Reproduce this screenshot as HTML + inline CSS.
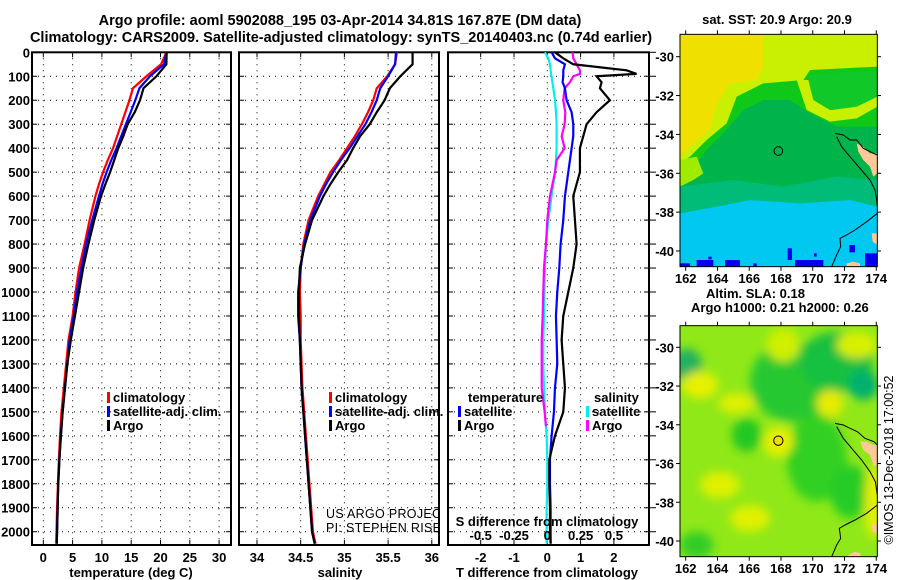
<!DOCTYPE html>
<html><head><meta charset="utf-8"><style>
html,body{margin:0;padding:0;background:#fff;}
svg{display:block;font-family:"Liberation Sans",Arial,sans-serif;}
.b{font-weight:bold;font-size:13px;}
.n{font-size:12.5px;letter-spacing:0.3px;}
</style></head><body>
<svg id="fig" width="900" height="580" viewBox="0 0 900 580">
<defs>
<clipPath id="c1"><rect x="32" y="52" width="199" height="493"/></clipPath>
<clipPath id="c2"><rect x="239" y="52" width="200" height="493"/></clipPath>
<clipPath id="c3"><rect x="448" y="52" width="201" height="493"/></clipPath>
<clipPath id="m1"><rect x="90" y="103" width="592" height="697"/></clipPath>
<clipPath id="m2"><rect x="90" y="122" width="592" height="693"/></clipPath>
<filter id="bl" x="-20%" y="-20%" width="140%" height="140%"><feGaussianBlur stdDeviation="14"/></filter>
</defs>
<text x="340" y="25" text-anchor="middle" style="font-weight:bold;font-size:14.5px">Argo profile: aoml 5902088_195 03-Apr-2014 34.81S 167.87E (DM data)</text>
<text x="341" y="42" text-anchor="middle" style="font-weight:bold;font-size:14.5px">Climatology: CARS2009. Satellite-adjusted climatology: synTS_20140403.nc (0.74d earlier)</text>
<g id="p1"></g>
<g id="p2"></g>
<g id="p3"></g>
<g id="yl"></g>

<!-- Map 1 -->
<text x="777" y="24" text-anchor="middle" class="b">sat. SST: 20.9 Argo: 20.9</text>
<g transform="translate(650,0) scale(0.33333)">
 <g clip-path="url(#m1)">
  <rect x="90" y="103" width="592" height="697" fill="#00b44c"/>
  <polygon fill="#10c818" points="90,103 682,103 682,380 560,380 480,340 420,300 340,300 280,330 220,400 170,450 130,500 90,530"/>
  <polygon fill="#00bc78" points="90,560 250,540 400,560 560,530 682,540 682,620 600,600 450,610 300,600 200,620 90,640"/>
  <polygon fill="#00c8f0" points="90,640 200,620 300,600 450,610 600,600 682,620 682,800 90,800"/>
  <polygon fill="#c8f000" points="90,103 682,103 682,200 480,210 460,240 340,250 260,290 230,370 170,420 120,470 90,490"/>
  <polygon fill="#c8f000" points="440,240 470,330 540,365 620,355 682,320 682,290 620,320 540,330 490,300 475,240"/>
  <polygon fill="#10c828" points="480,225 682,210 682,290 620,320 545,330 495,300 482,255"/>
  <polygon fill="#a0ec00" points="90,480 140,470 160,520 130,540 90,560"/>
  <polygon fill="#f0e000" points="90,103 340,103 340,200 320,240 240,250 200,310 180,390 130,430 90,470"/>
  <g fill="#0000f0"><rect x="90" y="790" width="30" height="10"/><rect x="140" y="780" width="50" height="20"/><rect x="225" y="780" width="45" height="20"/><rect x="310" y="790" width="10" height="10"/><rect x="413" y="745" width="13" height="35"/><rect x="435" y="780" width="85" height="20"/><rect x="492" y="760" width="8" height="10"/><rect x="598" y="735" width="17" height="22"/><rect x="645" y="760" width="37" height="40"/><rect x="175" y="770" width="10" height="8"/></g>
  <polygon fill="#ffc896" points="620,430 640,440 660,460 682,460 682,520 670,530 660,500 640,480 625,455"/>
  <polygon fill="#ffc896" points="665,700 682,700 682,735 668,725"/>
  <polygon fill="#ffc896" points="590,790 610,785 630,790 630,800 590,800"/>
  <polyline fill="none" stroke="#000" stroke-width="3" points="555,400 580,405 600,420 620,420 640,445 670,460 682,465"/>
  <polyline fill="none" stroke="#000" stroke-width="3" points="560,410 575,440 600,470 630,505 660,540 675,570 680,600 682,620"/>
  <polyline fill="none" stroke="#000" stroke-width="3" points="682,640 650,665 615,690 590,705 570,715 572,740 560,765 545,800"/>
  <circle cx="385" cy="453" r="13" fill="none" stroke="#000" stroke-width="3"/>
 </g>
 <rect x="90" y="103" width="592" height="697" fill="none" stroke="#000" stroke-width="3"/>
</g>
<g id="mt1"></g>

<!-- Map 2 -->
<text x="706" y="298" class="b">Altim. SLA: 0.18</text>
<text x="691" y="312" class="b">Argo h1000: 0.21 h2000: 0.26</text>
<g transform="translate(650,285) scale(0.33333)">
 <g clip-path="url(#m2)">
  <rect x="90" y="122" width="592" height="693" fill="#90e818"/>
  <g filter="url(#bl)">
   <ellipse cx="430" cy="290" rx="130" ry="120" fill="#28c830"/>
   <ellipse cx="560" cy="230" rx="110" ry="90" fill="#18c040"/>
   <ellipse cx="640" cy="300" rx="45" ry="45" fill="#00b070"/>
   <ellipse cx="110" cy="240" rx="45" ry="50" fill="#20b060"/>
   <ellipse cx="290" cy="450" rx="45" ry="50" fill="#20c820"/>
   <ellipse cx="500" cy="520" rx="90" ry="130" fill="#30d020"/>
   <ellipse cx="600" cy="620" rx="60" ry="80" fill="#28cc28"/>
   <ellipse cx="140" cy="780" rx="50" ry="40" fill="#30cc28"/>
   <ellipse cx="150" cy="300" rx="55" ry="40" fill="#e8f000"/>
   <ellipse cx="260" cy="355" rx="55" ry="30" fill="#e0f000"/>
   <ellipse cx="540" cy="355" rx="40" ry="40" fill="#e8ec00"/>
   <ellipse cx="385" cy="470" rx="45" ry="45" fill="#e8f000"/>
   <ellipse cx="210" cy="600" rx="60" ry="40" fill="#e0f000"/>
   <ellipse cx="300" cy="700" rx="60" ry="40" fill="#e0f000"/>
   <ellipse cx="670" cy="650" rx="25" ry="110" fill="#e8f000"/>
   <ellipse cx="620" cy="180" rx="60" ry="40" fill="#d8f000"/>
   <ellipse cx="400" cy="180" rx="50" ry="50" fill="#d0f000"/>
  </g>
  <polygon fill="#ffc896" points="630,470 650,470 670,480 682,480 682,540 672,545 660,510 640,495"/>
  <polygon fill="#ffc896" points="665,720 682,715 682,745 668,740"/>
  <polygon fill="#ffc896" points="595,810 615,800 632,805 632,815 595,815"/>
  <polyline fill="none" stroke="#000" stroke-width="3" points="555,415 580,420 600,430 622,440 645,460 672,470 682,480"/>
  <polyline fill="none" stroke="#000" stroke-width="3" points="560,425 580,460 605,490 635,525 660,560 676,590 682,630"/>
  <polyline fill="none" stroke="#000" stroke-width="3" points="682,660 650,685 615,705 585,720 568,730 572,760 560,780 545,815"/>
  <circle cx="385" cy="467" r="14" fill="#f0e000" stroke="#000" stroke-width="3"/>
 </g>
 <rect x="90" y="122" width="592" height="693" fill="none" stroke="#000" stroke-width="3"/>
</g>
<g id="mt2"></g>
<text transform="translate(893,460) rotate(-90)" text-anchor="middle" style="font-size:12.5px">©IMOS 13-Dec-2018 17:00:52</text>
</svg>
<script>
// ---- data ----
const depths = [0,50,100,150,200,250,300,350,400,450,500,550,600,700,800,900,1000,1100,1200,1300,1400,1500,1600,1700,1800,1900,2000,2050];
const tempClim = [21.0,20.1,17.6,15.3,14.7,14.0,13.3,12.6,11.9,11.0,10.2,9.5,8.9,7.9,7.05,6.1,5.5,5.0,4.3,3.9,3.5,3.1,2.85,2.65,2.5,2.35,2.25,2.2];
const tempSat  = [21.0,20.6,18.2,16.4,15.7,14.9,14.1,13.3,12.5,11.6,10.8,10.1,9.5,8.35,7.3,6.5,5.75,5.2,4.5,4.1,3.7,3.3,3.0,2.75,2.55,2.45,2.35,2.3];
const tempArgo = [21.05,21.0,19.3,17.1,16.5,15.6,14.4,13.65,12.8,12.1,11.4,10.6,9.85,8.7,7.7,6.8,6.1,5.4,4.7,4.1,3.7,3.3,3.0,2.75,2.55,2.45,2.35,2.3];
const salClim  = [35.6,35.58,35.49,35.37,35.33,35.27,35.2,35.12,35.03,34.94,34.84,34.77,34.7,34.59,34.53,34.5,34.49,34.5,34.5,34.51,34.52,34.54,34.56,34.58,34.6,34.62,34.64,34.67];
const salSat   = [35.59,35.58,35.5,35.41,35.37,35.31,35.24,35.15,35.06,34.96,34.87,34.79,34.72,34.61,34.54,34.5,34.47,34.47,34.49,34.5,34.51,34.53,34.55,34.57,34.59,34.61,34.63,34.66];
const salArgo  = [35.78,35.78,35.64,35.52,35.46,35.37,35.29,35.18,35.1,35.03,34.93,34.84,34.76,34.63,34.55,34.49,34.48,34.48,34.49,34.5,34.51,34.53,34.55,34.57,34.59,34.61,34.63,34.66];
const diffDepths = [0,25,50,75,90,100,125,150,200,250,300,350,400,450,500,600,700,800,900,1000,1100,1200,1300,1400,1500,1600,1700,1800,1900,2000,2050];
const dTsat  = [0.13,0.23,0.53,0.48,0.48,0.48,0.46,0.53,0.58,0.73,0.78,0.78,0.73,0.68,0.63,0.53,0.48,0.4,0.36,0.3,0.26,0.28,0.3,0.23,0.2,0.13,0.08,0.08,0.1,0.1,0.1];
const dTargo = [0.23,0.48,0.78,2.38,2.68,1.48,1.63,1.58,1.88,1.48,1.18,1.08,0.98,0.98,0.98,0.78,0.83,0.88,0.78,0.63,0.48,0.43,0.48,0.53,0.48,0.23,0.06,0.06,0.08,0.08,0.1];
const dSsat  = [-0.018,0.008,0.02,0.025,0.028,0.032,0.038,0.045,0.058,0.065,0.07,0.07,0.07,0.065,0.058,0.032,0.008,-0.01,-0.018,-0.022,-0.025,-0.03,-0.03,-0.025,-0.018,-0.005,0,0,-0.005,-0.005,-0.005];
const dSargoDepths = [0,25,50,75,90,100,125,150,200,250,300,350,400,450,500,600,700,800,900,1000,1100,1200,1300,1400,1500,1560];
const dSargo = [0.19,0.195,0.22,0.245,0.245,0.195,0.17,0.13,0.12,0.135,0.13,0.108,0.13,0.07,0.058,0.02,0,-0.01,-0.025,-0.03,-0.035,-0.042,-0.042,-0.042,-0.02,-0.01];
const depthTicks = [0,100,200,300,400,500,600,700,800,900,1000,1100,1200,1300,1400,1500,1600,1700,1800,1900,2000];
const tTicks = [0,5,10,15,20,25,30];
const sTicks = [34,34.5,35,35.5,36];
const sTickLabels = ["34","34.5","35","35.5","36"];
const dTTicks = [-2,-1,0,1,2];
const dSTicks = [-0.5,-0.25,0,0.25,0.5];
const dSTickLabels = ["-0.5","-0.25","0","0.25","0.5"];
const lonTicks = [162,164,166,168,170,172,174];
const latTicks = [-30,-32,-34,-36,-38,-40];

// ---- scales ----
const Y0=52.3, YTOP=52.3, YBOT=545;
const yD = d => Y0 + d*0.2397;
const xT = t => 43.3 + t*5.86;
const xS = s => 257 + (s-34)*87.4;
const xDT = t => 547.3 + t*33.3;
const xDS = s => 547.3 + s*133.2;
const NS='http://www.w3.org/2000/svg';
function mk(tag, attrs, parent){const e=document.createElementNS(NS,tag);for(const k in attrs)e.setAttribute(k,attrs[k]);parent.appendChild(e);return e;}

function panel(g, x0, x1, vticks, xf){
  for(const d of depthTicks){
    const y=yD(d);
    const l=mk('line',{x1:x0,x2:x1,y1:y,y2:y,stroke:'#000','stroke-width':1,'stroke-dasharray':'1,5'},g);
    
    
    mk('line',{x1:x0,x2:x0+5,y1:y,y2:y,stroke:'#000','stroke-width':1},g);
    mk('line',{x1:x1-5,x2:x1,y1:y,y2:y,stroke:'#000','stroke-width':1},g);
  }
  for(const v of vticks){
    const x=xf(v);
    const l=mk('line',{x1:x,x2:x,y1:YTOP,y2:YBOT,stroke:'#000','stroke-width':1,'stroke-dasharray':'1,5'},g);
    
    
    mk('line',{x1:x,x2:x,y1:YTOP,y2:YTOP+5,stroke:'#000','stroke-width':1},g);
    mk('line',{x1:x,x2:x,y1:YBOT-5,y2:YBOT,stroke:'#000','stroke-width':1},g);
  }
  const r=mk('rect',{x:x0,y:YTOP,width:x1-x0,height:YBOT-YTOP,fill:'none',stroke:'#000','stroke-width':2},g);
  
  
}
function series(g, ds, vs, xf, color, name, clip){
  const pts=ds.map((d,i)=>xf(vs[i]).toFixed(2)+','+yD(d).toFixed(2)).join(' ');
  const p=mk('polyline',{points:pts,fill:'none',stroke:color,'stroke-width':2.2,'clip-path':'url(#'+clip+')'},g);
  
  
}
function txt(g,x,y,s,anchor,cls,name){
  const t=mk('text',{x:x,y:y,'text-anchor':anchor,'class':cls},g);
  t.textContent=s;
  
  
  return t;
}
function legend(g,x,y,color,label){
  mk('rect',{x:x,y:y-10,width:3,height:11,fill:color},g);
  txt(g,x+6,y,label,'start','b','legend-entry');
}

// depth labels
const yl=document.getElementById('yl');
for(const d of depthTicks){ txt(yl,30,yD(d)+5,String(d),'end','b','depth-tick-label'); }

// panel 1
const p1=document.getElementById('p1');
panel(p1,32,231,tTicks,xT);
series(p1,depths,tempClim,xT,'#ff0000','temp-climatology-line','c1');
series(p1,depths,tempSat,xT,'#0000ff','temp-satellite-line','c1');
series(p1,depths,tempArgo,xT,'#000000','temp-argo-line','c1');
tTicks.forEach(t=>txt(p1,xT(t),562,String(t),'middle','b','temp-tick-label'));
txt(p1,131,577,'temperature (deg C)','middle','b','x-axis-title-temperature');
legend(p1,107,402,'#ff0000','climatology');
legend(p1,107,416,'#0000ff','satellite-adj. clim.');
legend(p1,107,430,'#000000','Argo');

// panel 2
const p2=document.getElementById('p2');
panel(p2,239,439,sTicks,xS);
series(p2,depths,salClim,xS,'#ff0000','sal-climatology-line','c2');
series(p2,depths,salSat,xS,'#0000ff','sal-satellite-line','c2');
series(p2,depths,salArgo,xS,'#000000','sal-argo-line','c2');
sTicks.forEach((s,i)=>txt(p2,xS(s),562,sTickLabels[i],'middle','b','sal-tick-label'));
txt(p2,340,577,'salinity','middle','b','x-axis-title-salinity');
legend(p2,329,402,'#ff0000','climatology');
legend(p2,329,416,'#0000ff','satellite-adj. clim.');
legend(p2,329,430,'#000000','Argo');
const g2c=mk('g',{'clip-path':'url(#c2)'},p2);
txt(g2c,326,518,'US ARGO PROJECT','start','n','project-credit');
txt(g2c,326,532,'PI: STEPHEN RISER','start','n','pi-credit');

// panel 3
const p3=document.getElementById('p3');
panel(p3,448,649,dTTicks,xDT);
for(const d of depthTicks){const y=yD(d);mk('line',{x1:649,x2:656,y1:y,y2:y,stroke:'#000','stroke-width':1},p3);}
series(p3,diffDepths,dSsat,xDS,'#00f0f0','sal-diff-satellite-line','c3');
series(p3,dSargoDepths,dSargo,xDS,'#ff00ff','sal-diff-argo-line','c3');
series(p3,diffDepths,dTsat,xDT,'#0000ff','temp-diff-satellite-line','c3');
series(p3,diffDepths,dTargo,xDT,'#000000','temp-diff-argo-line','c3');
dTTicks.forEach(t=>txt(p3,xDT(t),562,String(t),'middle','b','temp-diff-tick-label'));
txt(p3,547,577,'T difference from climatology','middle','b','x-axis-title-temp-diff');
txt(p3,547,526,'S difference from climatology','middle','b','s-axis-title');
dSTicks.forEach((s,i)=>txt(p3,xDS(s),540,dSTickLabels[i],'middle','b','sal-diff-tick-label'));
txt(p3,468,402,'temperature','start','b','legend-title-temperature');
legend(p3,458,416,'#0000ff','satellite');
legend(p3,458,430,'#000000','Argo');
txt(p3,594,402,'salinity','start','b','legend-title-salinity');
legend(p3,586,416,'#00f0f0','satellite');
legend(p3,586,430,'#ff00ff','Argo');

// map ticks
function mapTicks(g, top, bot, latY0, latScale, lonLabelY){
  const lonX = lon => 685.7 + (lon-162)*15.88;
  for(const lon of lonTicks){
    const x=lonX(lon);
    mk('line',{x1:x,x2:x,y1:top-4,y2:top,stroke:'#000','stroke-width':1},g);
    mk('line',{x1:x,x2:x,y1:bot,y2:bot+4,stroke:'#000','stroke-width':1},g);
    txt(g,x,lonLabelY,String(lon),'middle','b','lon-tick-label');
  }
  for(const lat of latTicks){
    const y=latY0+(-30-lat)*latScale;
    mk('line',{x1:676,x2:680,y1:y,y2:y,stroke:'#000','stroke-width':1},g);
    mk('line',{x1:877,x2:881,y1:y,y2:y,stroke:'#000','stroke-width':1},g);
    txt(g,674,y+5,String(lat),'end','b','lat-tick-label');
  }
}
mapTicks(document.getElementById('mt1'),34.3,266.7,56.7,19.43,283);
mapTicks(document.getElementById('mt2'),325.7,556.7,347.3,19.37,573);
</script>
</body></html>
